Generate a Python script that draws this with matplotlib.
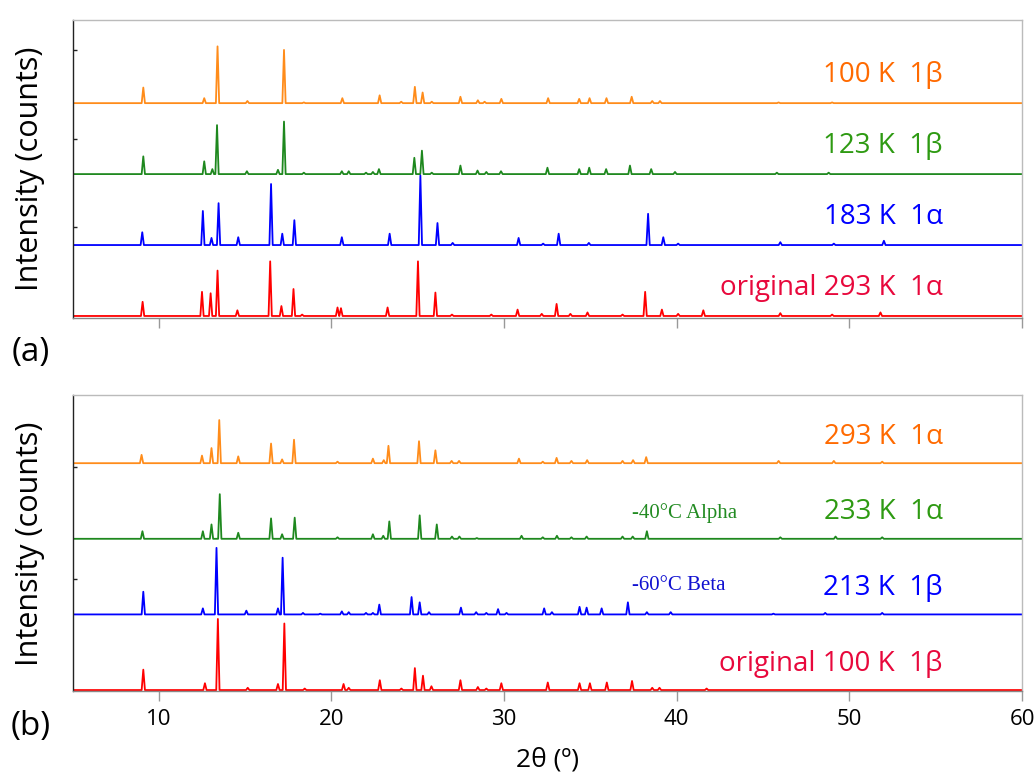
import matplotlib
matplotlib.use("Agg")
import matplotlib.pyplot as plt
import numpy as np

# ---- peak lists (2theta, height above the trace baseline) ----
# panel (a)
a_100K_pos = [9.10, 12.63, 13.40, 15.13, 17.25, 18.40, 20.63, 22.79, 24.04, 24.83, 25.28, 25.81,
              27.47, 28.48, 28.87, 29.84, 32.55, 34.35, 34.95, 35.93, 37.39, 38.58, 39.03, 45.9, 49.0]
a_100K_h = [0.22, 0.07, 0.80, 0.03, 0.75, 0.01, 0.07, 0.11, 0.02, 0.23, 0.15, 0.02,
            0.09, 0.04, 0.02, 0.06, 0.07, 0.06, 0.07, 0.07, 0.09, 0.03, 0.03, 0.01, 0.01]

a_123K_pos = [9.10, 12.63, 13.10, 13.37, 15.10, 16.90, 17.25, 18.40, 20.60, 21.00, 22.00, 22.40, 22.75,
              24.80, 25.24, 25.81, 27.47, 28.46, 28.97, 29.82, 32.51, 34.35, 34.93, 35.91, 37.29,
              38.52, 39.90, 45.8, 48.8]
a_123K_h = [0.25, 0.18, 0.07, 0.69, 0.04, 0.06, 0.74, 0.02, 0.04, 0.04, 0.02, 0.03, 0.07,
            0.23, 0.33, 0.02, 0.12, 0.05, 0.03, 0.04, 0.09, 0.07, 0.09, 0.07, 0.12,
            0.07, 0.03, 0.02, 0.02]

a_183K_pos = [9.04, 12.55, 13.05, 13.46, 14.60, 16.50, 17.15, 17.85, 20.60, 23.37, 25.15, 26.14,
              27.02, 30.84, 32.26, 33.16, 34.91, 38.34, 39.22, 40.08, 46.0, 49.1, 52.0]
a_183K_h = [0.18, 0.48, 0.10, 0.59, 0.11, 0.86, 0.16, 0.35, 0.11, 0.16, 0.98, 0.31,
            0.03, 0.10, 0.02, 0.16, 0.03, 0.44, 0.11, 0.02, 0.04, 0.02, 0.06]

a_293K_pos = [9.06, 12.50, 13.00, 13.40, 14.55, 16.45, 17.10, 17.80, 18.30, 20.35, 20.55, 23.25,
              25.01, 26.02, 26.98, 29.26, 30.78, 32.18, 33.04, 33.84, 34.83, 36.86, 38.17, 39.14,
              40.08, 41.54, 46.0, 49.0, 51.8]
a_293K_h = [0.20, 0.34, 0.32, 0.64, 0.08, 0.77, 0.14, 0.38, 0.02, 0.12, 0.11, 0.12,
            0.77, 0.33, 0.02, 0.02, 0.09, 0.03, 0.17, 0.03, 0.05, 0.02, 0.34, 0.09,
            0.03, 0.08, 0.04, 0.02, 0.05]

# panel (b)
b_293K_pos = [9.00, 12.50, 13.05, 13.50, 14.60, 16.50, 17.14, 17.83, 20.35, 22.40, 23.03, 23.30,
              25.07, 26.02, 26.96, 27.39, 30.86, 32.24, 33.04, 33.90, 34.81, 36.86, 37.47, 38.23,
              45.9, 49.1, 51.9]
b_293K_h = [0.11, 0.10, 0.20, 0.57, 0.09, 0.26, 0.05, 0.31, 0.02, 0.06, 0.04, 0.23,
            0.29, 0.17, 0.03, 0.03, 0.06, 0.02, 0.07, 0.03, 0.04, 0.03, 0.04, 0.08,
            0.03, 0.03, 0.02]

b_233K_pos = [9.05, 12.55, 13.05, 13.53, 14.60, 16.50, 17.14, 17.87, 20.35, 22.40, 23.00, 23.35,
              25.11, 26.10, 26.98, 27.41, 28.42, 31.01, 32.24, 33.06, 33.90, 34.78, 36.86, 37.45,
              38.27, 46.0, 49.2, 51.9]
b_233K_h = [0.10, 0.10, 0.19, 0.59, 0.08, 0.27, 0.06, 0.28, 0.02, 0.06, 0.04, 0.23,
            0.31, 0.19, 0.03, 0.03, 0.01, 0.04, 0.02, 0.04, 0.02, 0.03, 0.03, 0.03,
            0.10, 0.02, 0.03, 0.02]

b_213K_pos = [9.10, 12.55, 13.34, 15.07, 16.90, 17.17, 18.35, 19.35, 20.60, 21.00, 22.00, 22.40,
              22.77, 24.64, 25.11, 25.65, 27.50, 28.38, 28.97, 29.65, 30.14, 32.32, 32.77, 34.37,
              34.78, 35.65, 37.17, 38.27, 39.65, 45.6, 48.6, 51.9]
b_213K_h = [0.30, 0.08, 0.88, 0.05, 0.08, 0.75, 0.02, 0.01, 0.04, 0.03, 0.02, 0.02,
            0.13, 0.23, 0.16, 0.03, 0.09, 0.03, 0.02, 0.07, 0.02, 0.08, 0.03, 0.10,
            0.09, 0.08, 0.16, 0.03, 0.03, 0.01, 0.02, 0.02]

b_100K_pos = [9.10, 12.67, 13.42, 15.15, 16.90, 17.27, 18.45, 20.70, 21.00, 22.80, 24.05, 24.83,
              25.30, 25.79, 27.47, 28.48, 28.97, 29.84, 32.53, 34.37, 34.97, 35.95, 37.41, 38.58,
              39.00, 41.73]
b_100K_h = [0.27, 0.09, 0.94, 0.03, 0.08, 0.88, 0.02, 0.08, 0.03, 0.13, 0.02, 0.29,
            0.19, 0.05, 0.13, 0.04, 0.02, 0.09, 0.10, 0.09, 0.09, 0.10, 0.12, 0.03,
            0.03, 0.02]

a_labels = ["100 K  1β", "123 K  1β", "183 K  1α", "original 293 K  1α"]
b_labels = ["293 K  1α", "233 K  1α", "213 K  1β", "original 100 K  1β"]

line_colors = ["#FF8C1A", "#1E881E", "#0000FF", "#FF0000"]
label_colors = ["#FF6A00", "#2E9A12", "#0000FF", "#E8083C"]

plt.rcParams["font.family"] = ["Open Sans", "DejaVu Sans"]


def spikes(pos, h, base, w=0.095):
    # narrow spike at each peak position on a flat baseline
    xs, ys = [5.0], [base]
    for p, v in sorted(zip(pos, h)):
        xs += [p - w, p, p + w]
        ys += [base, base + v, base]
    xs.append(60.0)
    ys.append(base)
    return xs, ys


def setup(ax, ylim, yticks, show_labels):
    ax.set_xlim(5, 60)
    ax.set_ylim(*ylim)
    ax.set_xticks([10, 20, 30, 40, 50, 60])
    ax.set_yticks(yticks)
    ax.set_yticklabels([])
    ax.tick_params(axis="x", direction="out", length=7, width=1, color="#999999",
                   labelsize=16, pad=6, labelbottom=show_labels)
    ax.tick_params(axis="y", direction="in", length=3, width=1, color="#222222")
    ax.spines["left"].set_color("#222222")
    ax.spines["bottom"].set_color("#888888")
    ax.spines["top"].set_color("#BBBBBB")
    ax.spines["right"].set_color("#BBBBBB")
    for s in ax.spines.values():
        s.set_linewidth(1.0)


fig = plt.figure(figsize=(10.36, 7.74), dpi=100)
ax_a = fig.add_axes([0.070, 0.589, 0.9165, 0.385])
ax_b = fig.add_axes([0.070, 0.107, 0.9165, 0.383])

a_series = [(a_100K_pos, a_100K_h), (a_123K_pos, a_123K_h),
            (a_183K_pos, a_183K_h), (a_293K_pos, a_293K_h)]
b_series = [(b_293K_pos, b_293K_h), (b_233K_pos, b_233K_h),
            (b_213K_pos, b_213K_h), (b_100K_pos, b_100K_h)]

for ax, series, labels, dy in [(ax_a, a_series, a_labels, 0.39),
                               (ax_b, b_series, b_labels, 0.35)]:
    for i, (pos, h) in enumerate(series):
        base = 3 - i
        xs, ys = spikes(pos, h, base)
        ax.plot(xs, ys, color=line_colors[i], lw=1.3)
        ax.text(55.4, base + dy, labels[i], color=label_colors[i], fontsize=20,
                ha="right", va="center")

setup(ax_a, (-0.03, 4.17), [1.25, 2.5, 3.75], False)
setup(ax_b, (-0.015, 3.905), [1.47, 2.95], True)

ax_b.text(37.4, 2.34, "-40°C Alpha", color="#228B22", fontsize=15,
          family="Liberation Serif", ha="left", va="center")
ax_b.text(37.4, 1.38, "-60°C Beta", color="#1010D0", fontsize=15,
          family="Liberation Serif", ha="left", va="center")

fig.text(0.029, 0.782, "Intensity (counts)", rotation=90, fontsize=22,
         ha="center", va="center")
fig.text(0.029, 0.298, "Intensity (counts)", rotation=90, fontsize=22,
         ha="center", va="center")
fig.text(0.030, 0.545, "(a)", fontsize=24, ha="center", va="center")
fig.text(0.030, 0.062, "(b)", fontsize=24, ha="center", va="center")
fig.text(0.528, 0.018, "2θ (º)", fontsize=19, ha="center", va="center")

fig.savefig("out.png", dpi=100)
